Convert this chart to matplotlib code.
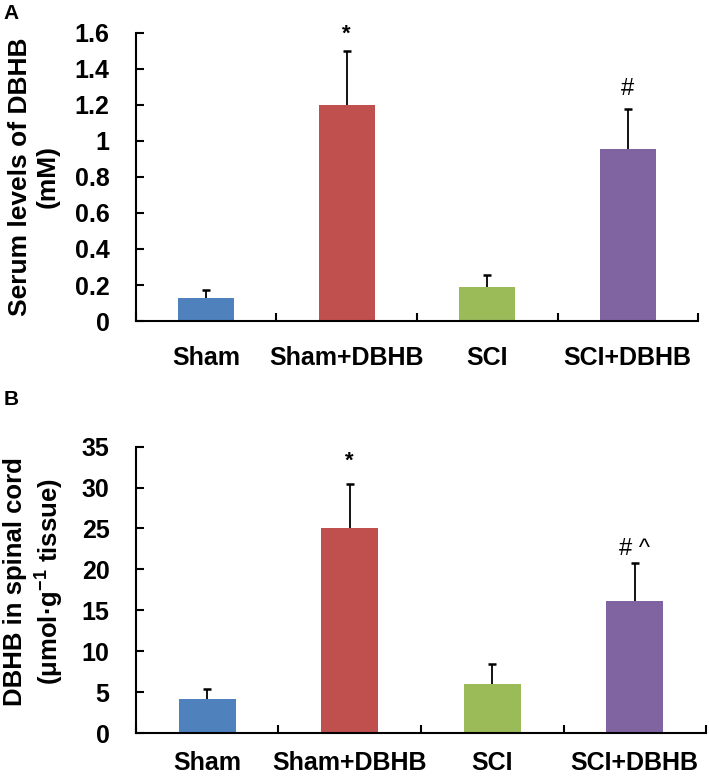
import numpy as np
import matplotlib
matplotlib.use('Agg')
import matplotlib.pyplot as plt

groups = ['Sham', 'Sham+DBHB', 'SCI', 'SCI+DBHB']
colors = ['#4F81BD', '#C0504D', '#9BBB59', '#8064A2']

serum_mean = [0.13, 1.20, 0.187, 0.955]
serum_err = [0.04, 0.30, 0.068, 0.225]
serum_marks = ['', '*', '', '#']

cord_mean = [4.2, 25.0, 6.0, 16.1]
cord_err = [1.2, 5.4, 2.5, 4.7]
cord_marks = ['', '*', '', '# ^']

plt.rcParams['font.family'] = ['Liberation Sans', 'DejaVu Sans']
plt.rcParams['font.weight'] = 'bold'
plt.rcParams['mathtext.fontset'] = 'custom'
plt.rcParams['mathtext.rm'] = 'Liberation Sans:bold'
plt.rcParams['mathtext.bf'] = 'Liberation Sans:bold'


def draw_panel(ax, means, errs, marks, ymax, ystep, ylabel, gaps, xpad,
               lab_size, lab_xy):
    x = np.arange(len(groups)) + 0.5
    means = np.array(means)
    errs = np.array(errs)
    ax.bar(x, means, width=0.4, color=colors, zorder=2)
    # upper error bars only, cap on top
    ax.vlines(x, means, means + errs, color='black', linewidth=1.3, zorder=3)
    ax.plot(x, means + errs, linestyle='none', marker='_', markersize=6,
            markeredgewidth=1.8, color='black', zorder=3)
    for xi, top, t, g in zip(x, means + errs, marks, gaps):
        if t == '*':
            ax.text(xi, top + g, t, ha='center', va='bottom', fontsize=16,
                    fontweight='bold')
        elif t:
            ax.text(xi, top + g, t, ha='center', va='bottom', fontsize=17,
                    fontweight='normal')
    ax.set_xlim(0, len(groups))
    ax.set_ylim(0, ymax)
    ax.set_yticks(np.arange(0, ymax + ystep / 2, ystep))
    ax.yaxis.set_major_formatter(matplotlib.ticker.FormatStrFormatter('%g'))
    ax.set_xticks(np.arange(0, len(groups) + 1))
    ax.set_xticklabels([])
    ax.set_xticks(x, minor=True)
    ax.set_xticklabels(groups, minor=True)
    ax.tick_params(axis='x', which='major', direction='in', length=6, width=1.5)
    ax.tick_params(axis='x', which='minor', length=0, pad=xpad, labelsize=18)
    ax.tick_params(axis='y', direction='in', length=6, width=1.5, pad=19, labelsize=18)
    for s in ['top', 'right']:
        ax.spines[s].set_visible(False)
    for s in ['left', 'bottom']:
        ax.spines[s].set_linewidth(1.5)
    ax.set_ylabel(ylabel, fontsize=lab_size, fontweight='bold', linespacing=1.2)
    ax.yaxis.set_label_coords(*lab_xy)


fig = plt.figure(figsize=(7.09, 7.78), dpi=100)
axA = fig.add_axes([0.1918, 0.5874, 0.7927, 0.3702])
axB = fig.add_axes([0.1918, 0.0575, 0.8040, 0.3685])

draw_panel(axA, serum_mean, serum_err, serum_marks, 1.6, 0.2,
           'Serum levels of DBHB\n(mM)', [0, 0.035, 0, 0.045], 18,
           19, (-0.135, 0.5))
draw_panel(axB, cord_mean, cord_err, cord_marks, 35, 5,
           'DBHB in spinal cord\n(\u03bcmol\u00b7g$^{-1}$ tissue)', [0, 1.5, 0, 0.4], 13,
           18.5, (-0.125, 0.53))

fig.text(0.005, 0.995, 'A', fontsize=15, fontweight='bold', va='top')
fig.text(0.005, 0.499, 'B', fontsize=15, fontweight='bold', va='top')

fig.savefig('out.png', dpi=100)
